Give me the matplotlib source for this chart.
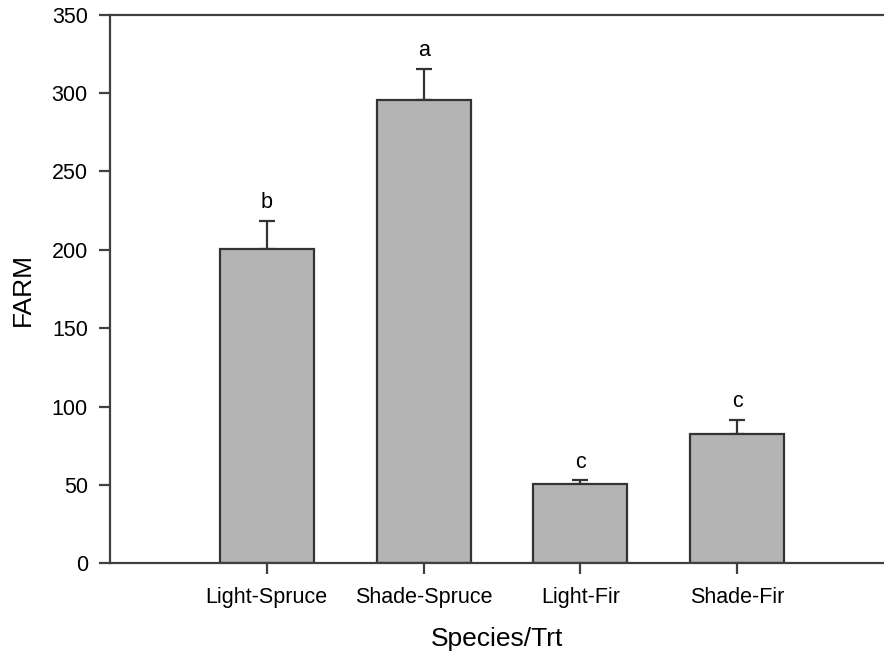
import matplotlib.pyplot as plt
import numpy as np

plt.rcParams['font.family'] = ['Liberation Sans', 'DejaVu Sans']

groups = ['Light-Spruce', 'Shade-Spruce', 'Light-Fir', 'Shade-Fir']
farm = [200.5, 295.5, 50.3, 82.4]
err = [18.0, 20.0, 2.6, 9.3]
letters = ['b', 'a', 'c', 'c']

fig = plt.figure(figsize=(8.84, 6.57), dpi=100)
ax = fig.add_axes([110/884, 0.1426, 1 - 110/884, 0.835])

x = np.arange(len(groups))
edge = '#333333'
ax.bar(x, farm, width=0.6, color='#b4b4b4', edgecolor=edge, linewidth=1.6, zorder=2)
ax.errorbar(x, farm, yerr=[np.zeros(len(err)), err], fmt='none', ecolor=edge,
            elinewidth=1.6, capsize=6, capthick=1.6, zorder=1)

# significance letters above error bars
for xi, v, e, t in zip(x, farm, err, letters):
    ax.annotate(t, (xi, v + e), xytext=(0, 9), textcoords='offset points',
                ha='center', va='baseline', fontsize=15.5)

ax.set_xlim(-1, 3.936)
ax.set_ylim(0, 350)
ax.set_yticks(np.arange(0, 351, 50))
ax.set_xticks(x)
ax.set_xticklabels(groups)

for s in ['left', 'bottom', 'top']:
    ax.spines[s].set_color('#404040')
    ax.spines[s].set_linewidth(1.6)
ax.spines['right'].set_visible(False)

ax.tick_params(axis='both', direction='out', length=8, width=1.6, color='#404040', labelsize=15.5)
ax.tick_params(axis='y', pad=8)
ax.tick_params(axis='x', pad=9)

ax.set_ylabel('FARM', fontsize=19, labelpad=12)
ax.set_xlabel('Species/Trt', fontsize=19, labelpad=14)

fig.savefig('out.png', dpi=100)
